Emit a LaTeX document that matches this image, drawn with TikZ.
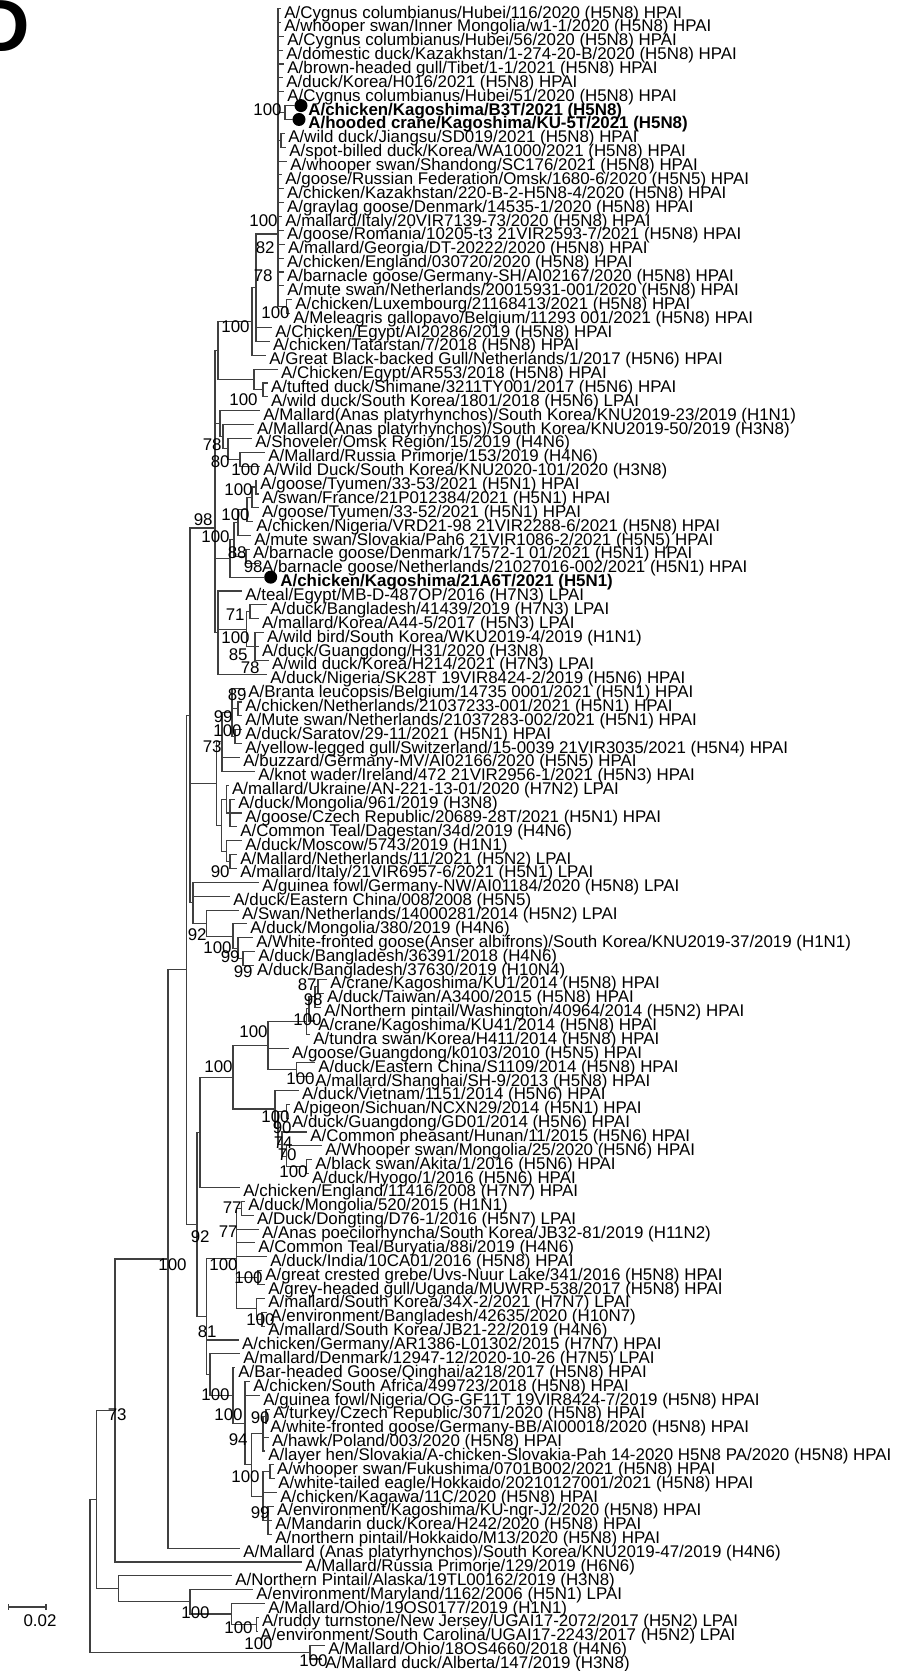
\documentclass[tikz,border=0pt]{standalone}
\usepackage{fontspec}
\setmainfont{Liberation Sans}
\usetikzlibrary{calc}
\newcounter{bsc}
\tikzset{
  br/.style={line width=0.55pt, draw=black!75},
  lbl/.style={anchor=base west, inner sep=0pt, font=\fontsize{8.45}{9}\selectfont},
  blbl/.style={anchor=base west, inner sep=0pt, font=\fontsize{8.45}{9}\selectfont\bfseries},
  bst/.style={anchor=east, inner sep=0pt, font=\fontsize{8.45}{9}\selectfont},
  tipdot/.style={circle, fill=black, inner sep=0pt, minimum size=6.5pt},
}
\newcommand\leaf[3]{\coordinate (r#1) at ({#2-3},{8.5+13.87*(#1-1)});
  \node[lbl] (t#1) at ({#2},{18+13.87*(#1-1)}) {#3};}
\newcommand\dleaf[4]{\coordinate (r#1) at ({#2-6},{8.5+13.87*(#1-1)});
  \node[tipdot] (d#1) at ({#2},{8.5+13.87*(#1-1)}) {};
  \node[blbl] (t#1) at ({#3},{18+13.87*(#1-1)}) {#4};}
\newcommand\tn[4]{\path let \p1=(#3), \p2=(#4), \p3=(#2,0) in coordinate (#1) at (\x3,{0.5*(\y1)+0.5*(\y2)});}
\newcommand\tnxy[3]{\coordinate (#1) at (#2,#3);}
\newcommand\ed[2]{\foreach \ch in {#2}{\draw[br] (#1) |- (\ch);}}
\newcommand\bs[3]{\stepcounter{bsc}\node[bst] (bs\thebsc) at (#1,#2) {#3};}
\begin{document}
\begin{tikzpicture}[x=0.5pt,y=-0.5pt]
\useasboundingbox (0,0) rectangle (905,1671);
\node[anchor=north east, inner sep=0pt, font=\fontsize{37}{37}\selectfont\bfseries] (panel) at (30,0) {D};
% leaves
\leaf{1}{284}{A/Cygnus columbianus/Hubei/116/2020 (H5N8) HPAI}
\leaf{2}{284}{A/whooper swan/Inner Mongolia/w1-1/2020 (H5N8) HPAI}
\leaf{3}{287}{A/Cygnus columbianus/Hubei/56/2020 (H5N8) HPAI}
\leaf{4}{286}{A/domestic duck/Kazakhstan/1-274-20-B/2020 (H5N8) HPAI}
\leaf{5}{287}{A/brown-headed gull/Tibet/1-1/2021 (H5N8) HPAI}
\leaf{6}{286}{A/duck/Korea/H016/2021 (H5N8) HPAI}
\leaf{7}{287}{A/Cygnus columbianus/Hubei/51/2020 (H5N8) HPAI}
\dleaf{8}{301}{308}{A/chicken/Kagoshima/B3T/2021 (H5N8)}
\dleaf{9}{299}{308}{A/hooded crane/Kagoshima/KU-5T/2021 (H5N8)}
\leaf{10}{288}{A/wild duck/Jiangsu/SD019/2021 (H5N8) HPAI}
\leaf{11}{289}{A/spot-billed duck/Korea/WA1000/2021 (H5N8) HPAI}
\leaf{12}{290}{A/whooper swan/Shandong/SC176/2021 (H5N8) HPAI}
\leaf{13}{285}{A/goose/Russian Federation/Omsk/1680-6/2020 (H5N5) HPAI}
\leaf{14}{286.7}{A/chicken/Kazakhstan/220-B-2-H5N8-4/2020 (H5N8) HPAI}
\leaf{15}{286.7}{A/graylag goose/Denmark/14535-1/2020 (H5N8) HPAI}
\leaf{16}{285}{A/mallard/Italy/20VIR7139-73/2020 (H5N8) HPAI}
\leaf{17}{286.7}{A/goose/Romania/10205-t3 21VIR2593-7/2021 (H5N8) HPAI}
\leaf{18}{287.7}{A/mallard/Georgia/DT-20222/2020 (H5N8) HPAI}
\leaf{19}{286.7}{A/chicken/England/030720/2020 (H5N8) HPAI}
\leaf{20}{286.7}{A/barnacle goose/Germany-SH/AI02167/2020 (H5N8) HPAI}
\leaf{21}{287}{A/mute swan/Netherlands/20015931-001/2020 (H5N8) HPAI}
\leaf{22}{295}{A/chicken/Luxembourg/21168413/2021 (H5N8) HPAI}
\leaf{23}{293}{A/Meleagris gallopavo/Belgium/11293 001/2021 (H5N8) HPAI}
\leaf{24}{275}{A/Chicken/Egypt/AI20286/2019 (H5N8) HPAI}
\leaf{25}{272.7}{A/chicken/Tatarstan/7/2018 (H5N8) HPAI}
\leaf{26}{269}{A/Great Black-backed Gull/Netherlands/1/2017 (H5N6) HPAI}
\leaf{27}{280.7}{A/Chicken/Egypt/AR553/2018 (H5N8) HPAI}
\leaf{28}{270.7}{A/tufted duck/Shimane/3211TY001/2017 (H5N6) HPAI}
\leaf{29}{270.7}{A/wild duck/South Korea/1801/2018 (H5N6) LPAI}
\leaf{30}{263}{A/Mallard(Anas platyrhynchos)/South Korea/KNU2019-23/2019 (H1N1)}
\leaf{31}{256.7}{A/Mallard(Anas platyrhynchos)/South Korea/KNU2019-50/2019 (H3N8)}
\leaf{32}{255}{A/Shoveler/Omsk Region/15/2019 (H4N6)}
\leaf{33}{268}{A/Mallard/Russia Primorje/153/2019 (H4N6)}
\leaf{34}{263}{A/Wild Duck/South Korea/KNU2020-101/2020 (H3N8)}
\leaf{35}{260}{A/goose/Tyumen/33-53/2021 (H5N1) HPAI}
\leaf{36}{261.7}{A/swan/France/21P012384/2021 (H5N1) HPAI}
\leaf{37}{261.7}{A/goose/Tyumen/33-52/2021 (H5N1) HPAI}
\leaf{38}{256}{A/chicken/Nigeria/VRD21-98 21VIR2288-6/2021 (H5N8) HPAI}
\leaf{39}{254}{A/mute swan/Slovakia/Pah6 21VIR1086-2/2021 (H5N5) HPAI}
\leaf{40}{252.7}{A/barnacle goose/Denmark/17572-1 01/2021 (H5N1) HPAI}
\leaf{41}{261.7}{A/barnacle goose/Netherlands/21027016-002/2021 (H5N1) HPAI}
\dleaf{42}{270.7}{280}{A/chicken/Kagoshima/21A6T/2021 (H5N1)}
\leaf{43}{245}{A/teal/Egypt/MB-D-487OP/2016 (H7N3) LPAI}
\leaf{44}{270}{A/duck/Bangladesh/41439/2019 (H7N3) LPAI}
\leaf{45}{261.7}{A/mallard/Korea/A44-5/2017 (H5N3) LPAI}
\leaf{46}{266.7}{A/wild bird/South Korea/WKU2019-4/2019 (H1N1)}
\leaf{47}{261.7}{A/duck/Guangdong/H31/2020 (H3N8)}
\leaf{48}{271.7}{A/wild duck/Korea/H214/2021 (H7N3) LPAI}
\leaf{49}{270}{A/duck/Nigeria/SK28T 19VIR8424-2/2019 (H5N6) HPAI}
\leaf{50}{248}{A/Branta leucopsis/Belgium/14735 0001/2021 (H5N1) HPAI}
\leaf{51}{245}{A/chicken/Netherlands/21037233-001/2021 (H5N1) HPAI}
\leaf{52}{245}{A/Mute swan/Netherlands/21037283-002/2021 (H5N1) HPAI}
\leaf{53}{245}{A/duck/Saratov/29-11/2021 (H5N1) HPAI}
\leaf{54}{245}{A/yellow-legged gull/Switzerland/15-0039 21VIR3035/2021 (H5N4) HPAI}
\leaf{55}{243}{A/buzzard/Germany-MV/AI02166/2020 (H5N5) HPAI}
\leaf{56}{258}{A/knot wader/Ireland/472 21VIR2956-1/2021 (H5N3) HPAI}
\leaf{57}{231.7}{A/mallard/Ukraine/AN-221-13-01/2020 (H7N2) LPAI}
\leaf{58}{238}{A/duck/Mongolia/961/2019 (H3N8)}
\leaf{59}{245}{A/goose/Czech Republic/20689-28T/2021 (H5N1) HPAI}
\leaf{60}{240}{A/Common Teal/Dagestan/34d/2019 (H4N6)}
\leaf{61}{245}{A/duck/Moscow/5743/2019 (H1N1)}
\leaf{62}{240}{A/Mallard/Netherlands/11/2021 (H5N2) LPAI}
\leaf{63}{240}{A/mallard/Italy/21VIR6957-6/2021 (H5N1) LPAI}
\leaf{64}{261.7}{A/guinea fowl/Germany-NW/AI01184/2020 (H5N8) LPAI}
\leaf{65}{233}{A/duck/Eastern China/008/2008 (H5N5)}
\leaf{66}{241.7}{A/Swan/Netherlands/14000281/2014 (H5N2) LPAI}
\leaf{67}{250}{A/duck/Mongolia/380/2019 (H4N6)}
\leaf{68}{256}{A/White-fronted goose(Anser albifrons)/South Korea/KNU2019-37/2019 (H1N1)}
\leaf{69}{258}{A/duck/Bangladesh/36391/2018 (H4N6)}
\leaf{70}{256.7}{A/duck/Bangladesh/37630/2019 (H10N4)}
\leaf{71}{330}{A/crane/Kagoshima/KU1/2014 (H5N8) HPAI}
\leaf{72}{326.7}{A/duck/Taiwan/A3400/2015 (H5N8) HPAI}
\leaf{73}{324}{A/Northern pintail/Washington/40964/2014 (H5N2) HPAI}
\leaf{74}{318}{A/crane/Kagoshima/KU41/2014 (H5N8) HPAI}
\leaf{75}{313}{A/tundra swan/Korea/H411/2014 (H5N8) HPAI}
\leaf{76}{291.7}{A/goose/Guangdong/k0103/2010 (H5N5) HPAI}
\leaf{77}{318}{A/duck/Eastern China/S1109/2014 (H5N8) HPAI}
\leaf{78}{315}{A/mallard/Shanghai/SH-9/2013 (H5N8) HPAI}
\leaf{79}{301.7}{A/duck/Vietnam/1151/2014 (H5N6) HPAI}
\leaf{80}{293}{A/pigeon/Sichuan/NCXN29/2014 (H5N1) HPAI}
\leaf{81}{291.7}{A/duck/Guangdong/GD01/2014 (H5N6) HPAI}
\leaf{82}{310}{A/Common pheasant/Hunan/11/2015 (H5N6) HPAI}
\leaf{83}{325}{A/Whooper swan/Mongolia/25/2020 (H5N6) HPAI}
\leaf{84}{315}{A/black swan/Akita/1/2016 (H5N6) HPAI}
\leaf{85}{311.7}{A/duck/Hyogo/1/2016 (H5N6) HPAI}
\leaf{86}{243}{A/chicken/England/11416/2008 (H7N7) HPAI}
\leaf{87}{248}{A/duck/Mongolia/520/2015 (H1N1)}
\leaf{88}{256.7}{A/Duck/Dongting/D76-1/2016 (H5N7) LPAI}
\leaf{89}{261.7}{A/Anas poecilorhyncha/South Korea/JB32-81/2019 (H11N2)}
\leaf{90}{258}{A/Common Teal/Buryatia/88i/2019 (H4N6)}
\leaf{91}{270}{A/duck/India/10CA01/2016 (H5N8) HPAI}
\leaf{92}{265}{A/great crested grebe/Uvs-Nuur Lake/341/2016 (H5N8) HPAI}
\leaf{93}{268}{A/grey-headed gull/Uganda/MUWRP-538/2017 (H5N8) HPAI}
\leaf{94}{268}{A/mallard/South Korea/34X-2/2021 (H7N7) LPAI}
\leaf{95}{270}{A/environment/Bangladesh/42635/2020 (H10N7)}
\leaf{96}{268}{A/mallard/South Korea/JB21-22/2019 (H4N6)}
\leaf{97}{241.7}{A/chicken/Germany/AR1386-L01302/2015 (H7N7) HPAI}
\leaf{98}{243}{A/mallard/Denmark/12947-12/2020-10-26 (H7N5) LPAI}
\leaf{99}{238}{A/Bar-headed Goose/Qinghai/a218/2017 (H5N8) HPAI}
\leaf{100}{253}{A/chicken/South Africa/499723/2018 (H5N8) HPAI}
\leaf{101}{263}{A/guinea fowl/Nigeria/OG-GF11T 19VIR8424-7/2019 (H5N8) HPAI}
\leaf{102}{273}{A/turkey/Czech Republic/3071/2020 (H5N8) HPAI}
\leaf{103}{270}{A/white-fronted goose/Germany-BB/AI00018/2020 (H5N8) HPAI}
\leaf{104}{271.7}{A/hawk/Poland/003/2020 (H5N8) HPAI}
\leaf{105}{268}{A/layer hen/Slovakia/A-chicken-Slovakia-Pah 14-2020 H5N8 PA/2020 (H5N8) HPAI}
\leaf{106}{276.7}{A/whooper swan/Fukushima/0701B002/2021 (H5N8) HPAI}
\leaf{107}{278}{A/white-tailed eagle/Hokkaido/20210127001/2021 (H5N8) HPAI}
\leaf{108}{280}{A/chicken/Kagawa/11C/2020 (H5N8) HPAI}
\leaf{109}{276.7}{A/environment/Kagoshima/KU-ngr-J2/2020 (H5N8) HPAI}
\leaf{110}{275}{A/Mandarin duck/Korea/H242/2020 (H5N8) HPAI}
\leaf{111}{275}{A/northern pintail/Hokkaido/M13/2020 (H5N8) HPAI}
\leaf{112}{243}{A/Mallard (Anas platyrhynchos)/South Korea/KNU2019-47/2019 (H4N6)}
\leaf{113}{305}{A/Mallard/Russia Primorje/129/2019 (H6N6)}
\leaf{114}{235}{A/Northern Pintail/Alaska/19TL00162/2019 (H3N8)}
\leaf{115}{256}{A/environment/Maryland/1162/2006 (H5N1) LPAI}
\leaf{116}{268}{A/Mallard/Ohio/19OS0177/2019 (H1N1)}
\leaf{117}{261.7}{A/ruddy turnstone/New Jersey/UGAI17-2072/2017 (H5N2) LPAI}
\leaf{118}{260}{A/environment/South Carolina/UGAI17-2243/2017 (H5N2) LPAI}
\leaf{119}{328}{A/Mallard/Ohio/18OS4660/2018 (H4N6)}
\leaf{120}{325}{A/Mallard duck/Alberta/147/2019 (H3N8)}
% internal nodes
\tn{N89}{285}{r8}{r9}
\tn{N1011}{281}{r10}{r11}
\tn{N2223}{286.7}{r22}{r23}
\tnxy{R}{278}{234}
\tn{Q}{256}{R}{r25}
\tn{P}{252}{Q}{r26}
\tn{N2829}{263}{r28}{r29}
\tn{Q3}{254}{r27}{N2829}
\tn{T1}{218}{P}{Q3}
\tn{N3334}{240}{r33}{r34}
\tn{T4}{228}{r32}{N3334}
\tn{T3}{223}{r31}{T4}
\tn{T2}{220}{r30}{T3}
\tn{N3536}{256}{r35}{r36}
\tn{J2a}{252}{N3536}{r37}
\tn{J2b}{247}{J2a}{r38}
\tn{J2c}{238}{J2b}{r39}
\tn{N4041}{246}{r40}{r41}
\tn{J2d}{234}{J2c}{N4041}
\tn{J2}{230}{J2d}{r42}
\tn{N4445}{250}{r44}{r45}
\tn{N4648}{255}{r46}{r48}
\tn{J3}{246.7}{N4445}{N4648}
\tn{J4}{218}{r43}{r49}
\tnxy{J}{215}{528}
\tn{N5152}{238}{r51}{r52}
\tn{N5354}{235}{r53}{r54}
\tn{L1a}{232}{r50}{N5354}
\tn{L1}{222}{L1a}{r56}
\tn{L2b}{230}{r58}{r60}
\tn{L2a}{226.7}{r57}{L2b}
\tn{L2d}{230}{r62}{r63}
\tn{L2c}{226.7}{r61}{L2d}
\tn{L2}{221.7}{L2a}{L2c}
\tn{L}{216.7}{L1}{L2}
\tn{N6970}{243}{r69}{r70}
\tn{N68}{238}{r68}{N6970}
\tn{N67}{233}{r67}{N68}
\tn{N92}{206.7}{r66}{N67}
\tn{G2}{193}{r64}{N92}
\tn{G}{190}{J}{G2}
\tn{U113}{318}{r71}{r72}
\tn{U112}{315}{U113}{r73}
\tn{U111}{309}{U112}{r74}
\tn{U11}{306.7}{U111}{r75}
\tn{U12}{296.7}{r77}{r78}
\tn{U1}{268}{U11}{U12}
\tn{U22}{286.7}{r80}{r81}
\tn{U25}{306.7}{r84}{r85}
\tn{U24}{286.7}{r83}{U25}
\tn{U23}{282}{r82}{U24}
\tn{U21}{278}{U22}{U23}
\tn{U2}{275}{r79}{U21}
\tn{U}{233}{U1}{U2}
\tn{H1}{200}{U}{r86}
\tn{N8788}{241.7}{r87}{r88}
\tn{W1}{258}{r92}{r93}
\tn{W3}{262}{r95}{r96}
\tn{W2}{256.7}{r94}{W3}
\tn{W}{236.7}{N8788}{W2}
\tn{Z5}{268}{r109}{r111}
\tn{N106107}{270}{r106}{r107}
\tn{Z4}{263}{N106107}{Z5}
\tn{N102103}{266}{r102}{r103}
\tn{Z3}{263}{N102103}{r105}
\tn{Z2}{251.7}{Z3}{Z4}
\tn{Z}{245}{r100}{Z2}
\tn{Y}{233}{r99}{Z}
\tn{X}{210}{r98}{Y}
\tn{V}{206.7}{W}{X}
\tn{H}{197}{H1}{V}
\tn{F}{186.7}{G}{H}
\tn{E}{168}{F}{r112}
\tn{B}{115}{E}{r113}
\tn{O}{256.7}{r117}{r118}
\tn{N}{231.7}{r116}{O}
\tn{M}{190}{r115}{N}
\tn{C}{118.3}{r114}{M}
\tn{A}{96.7}{B}{C}
\tn{P119}{310}{r119}{r120}
\tn{Root}{90}{A}{P119}
% edges
\ed{Root}{A,P119}
\ed{P119}{r119,r120}
\ed{A}{B,C}
\ed{C}{r114,M}
\ed{M}{r115,N}
\ed{N}{r116,O}
\ed{O}{r117,r118}
\ed{B}{E,r113}
\ed{E}{F,r112}
\ed{F}{G,H}
\ed{H}{H1,V}
\ed{H1}{U,r86}
\ed{U}{U1,U2}
\ed{U1}{U11,r76,U12}
\ed{U11}{U111,r75}
\ed{U111}{U112,r74}
\ed{U112}{U113,r73}
\ed{U113}{r71,r72}
\ed{U12}{r77,r78}
\ed{U2}{r79,U21}
\ed{U21}{U22,U23}
\ed{U22}{r80,r81}
\ed{U23}{r82,U24}
\ed{U24}{r83,U25}
\ed{U25}{r84,r85}
\ed{V}{W,r97,X}
\ed{W}{N8788,r89,r90,r91,W1,W2}
\ed{N8788}{r87,r88}
\ed{W1}{r92,r93}
\ed{W2}{r94,W3}
\ed{W3}{r95,r96}
\ed{X}{r98,Y}
\ed{Y}{r99,Z}
\ed{Z}{r100,r101,Z2}
\ed{Z2}{Z3,Z4}
\ed{Z3}{N102103,r104,r105}
\ed{N102103}{r102,r103}
\ed{Z4}{N106107,r108,Z5}
\ed{N106107}{r106,r107}
\ed{Z5}{r109,r110,r111}
\ed{G}{J,L,G2}
\ed{G2}{r64,r65,N92}
\ed{N92}{r66,N67}
\ed{N67}{r67,N68}
\ed{N68}{r68,N6970}
\ed{N6970}{r69,r70}
\ed{L}{L1,L2}
\ed{L1}{L1a,r55,r56}
\ed{L1a}{r50,N5152,N5354}
\ed{N5152}{r51,r52}
\ed{N5354}{r53,r54}
\ed{L2}{L2a,L2c}
\ed{L2a}{r57,L2b}
\ed{L2b}{r58,r59,r60}
\ed{L2c}{r61,L2d}
\ed{L2d}{r62,r63}
\ed{J}{T1,T2,J2,J4}
\ed{T1}{P,Q3}
\ed{P}{Q,r26}
\ed{Q}{R,r24,r25}
\ed{R}{r1,r2,r3,r4,r5,r6,r7,N89,N1011,r12,r13,r14,r15,r16,r17,r18,r19,r20,r21,N2223}
\ed{N89}{r8,r9}
\ed{N1011}{r10,r11}
\ed{N2223}{r22,r23}
\ed{Q3}{r27,N2829}
\ed{N2829}{r28,r29}
\ed{T2}{r30,T3}
\ed{T3}{r31,T4}
\ed{T4}{r32,N3334}
\ed{N3334}{r33,r34}
\ed{J2}{J2d,r42}
\ed{J2d}{J2c,N4041}
\ed{J2c}{J2b,r39}
\ed{J2b}{J2a,r38}
\ed{J2a}{N3536,r37}
\ed{N3536}{r35,r36}
\ed{N4041}{r40,r41}
\ed{J4}{r43,J3,r49}
\ed{J3}{N4445,N4648}
\ed{N4445}{r44,r45}
\ed{N4648}{r46,r47,r48}
% bootstrap values
\bs{282}{110}{100}
\bs{278}{221}{100}
\bs{275}{248}{82}
\bs{273}{276}{78}
\bs{290}{313}{100}
\bs{250}{327}{100}
\bs{258}{400}{100}
\bs{222}{445}{78}
\bs{230}{462}{80}
\bs{260}{470}{100}
\bs{253}{490}{100}
\bs{250}{515}{100}
\bs{213}{520}{98}
\bs{230}{537}{100}
\bs{247}{553}{88}
\bs{263}{567}{98}
\bs{245}{615}{71}
\bs{250}{638}{100}
\bs{248}{655}{85}
\bs{260}{668}{78}
\bs{247}{695}{89}
\bs{233}{717}{99}
\bs{242}{731}{100}
\bs{222}{747}{73}
\bs{230}{872}{90}
\bs{207}{935}{92}
\bs{232}{948}{100}
\bs{240}{957}{99}
\bs{253}{972}{99}
\bs{317}{985}{87}
\bs{323}{1000}{98}
\bs{322}{1020}{100}
\bs{268}{1032}{100}
\bs{233}{1067}{100}
\bs{315}{1079}{100}
\bs{290}{1117}{100}
\bs{292}{1128}{90}
\bs{293}{1143}{74}
\bs{297}{1155}{70}
\bs{308}{1172}{100}
\bs{242}{1208}{77}
\bs{238}{1232}{77}
\bs{210}{1237}{92}
\bs{187}{1265}{100}
\bs{238}{1265}{100}
\bs{263}{1278}{100}
\bs{275}{1320}{100}
\bs{217}{1332}{81}
\bs{230}{1395}{100}
\bs{127}{1415}{73}
\bs{243}{1415}{100}
\bs{270}{1418}{90}
\bs{248}{1440}{94}
\bs{260}{1477}{100}
\bs{270}{1513}{99}
\bs{210}{1613}{100}
\bs{253}{1628}{100}
\bs{273}{1644}{100}
\bs{328}{1661}{100}
% scale bar
\coordinate (sbA) at (8.3,1607);
\coordinate (sbB) at (46,1607);
\draw[br] (sbA) -- (sbB);
\draw[br] ($(sbA)+(0,-3)$) -- ($(sbA)+(0,3)$);
\draw[br] ($(sbB)+(0,-3)$) -- ($(sbB)+(0,3)$);
\node[bst, anchor=center] (sblabel) at (40,1621) {0.02};
\end{tikzpicture}
\end{document}
